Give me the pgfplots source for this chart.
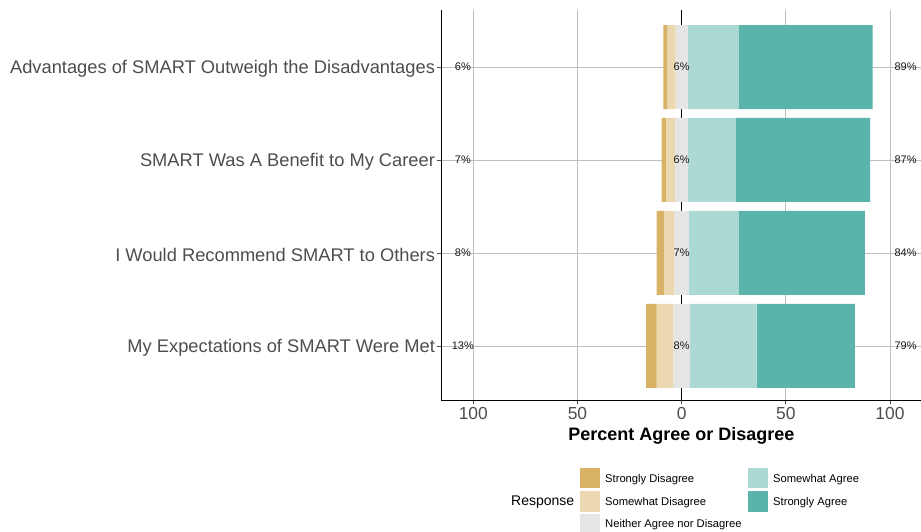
\documentclass[border=0pt]{standalone}
\usepackage{fontspec}
\setmainfont{Liberation Sans}
\usepackage{pgfplots}
\usepackage{pgfplotstable}
\pgfplotsset{compat=1.18}
\definecolor{sdis}{HTML}{D9B365}
\definecolor{swdis}{HTML}{EBD8B0}
\definecolor{neut}{HTML}{E5E5E5}
\definecolor{swag}{HTML}{ADD9D5}
\definecolor{stag}{HTML}{5AB4AC}
\definecolor{gridgray}{HTML}{BEBEBE}
\definecolor{axgray}{HTML}{4D4D4D}

% offset = -(strongly dis + somewhat dis + neutral/2)
\pgfplotstableread{
y   off    sd   swd  neu  sa    sta
4   -8.7   1.8  4.0  5.8  24.6  64.2
3   -9.6   2.1  4.5  6.0  23.0  64.5
2   -12.0  3.5  5.0  7.0  24.0  60.5
1   -17.0  5.0  8.0  8.0  32.0  47.2
}\likertdata

\tikzset{pct/.style={font=\fontsize{11}{12}\selectfont, text=black!90}}

\begin{document}
\begin{tikzpicture}
\begin{axis}[
  name=ax, at={(0,0)}, anchor=south west,
  scale only axis, width=480pt, height=390pt,
  xbar stacked, stack negative=on previous, bar width=84pt,
  xmin=-115.5, xmax=114.9, ymin=0.419, ymax=4.613,
  axis x line*=bottom, axis y line*=left,
  axis line style={black, line width=0.8pt},
  xtick={-100,-50,50,100}, xticklabels={100,50,50,100},
  extra x ticks={0}, extra x tick labels={0},
  extra x tick style={grid style={black, line width=0.9pt}},
  ytick={1,2,3,4},
  yticklabels={My Expectations of SMART Were Met,
               I Would Recommend SMART to Others,
               SMART Was A Benefit to My Career,
               Advantages of SMART Outweigh the Disadvantages},
  xmajorgrids, ymajorgrids,
  grid style={color=gridgray, line width=0.6pt},
  tick style={color=axgray, line width=0.6pt},
  tick align=outside, major tick length=4pt,
  xticklabel style={font=\fontsize{17.4}{20}\selectfont, text=axgray},
  yticklabel style={font=\fontsize{18.3}{22}\selectfont, text=axgray, xshift=1.5pt, yshift=-1.5pt},
  xlabel={\bfseries Percent Agree or Disagree},
  xlabel style={at={(axis description cs:0.501,0)}, anchor=center, yshift=-36pt,
                font=\fontsize{18}{21}\selectfont},
]
\addplot[draw=none, fill=none] table[x=off, y=y]{\likertdata};
\addplot[draw=none, fill=sdis] table[x=sd, y=y]{\likertdata};
\addplot[draw=none, fill=swdis] table[x=swd, y=y]{\likertdata};
\addplot[draw=none, fill=neut] table[x=neu, y=y]{\likertdata};
\addplot[draw=none, fill=swag] table[x=sa, y=y]{\likertdata};
\addplot[draw=none, fill=stag] table[x=sta, y=y]{\likertdata};

\coordinate (L4) at (axis cs:-105,4);
\coordinate (L3) at (axis cs:-105,3);
\coordinate (L2) at (axis cs:-105,2);
\coordinate (L1) at (axis cs:-105,1);
\coordinate (C4) at (axis cs:0,4);
\coordinate (C3) at (axis cs:0,3);
\coordinate (C2) at (axis cs:0,2);
\coordinate (C1) at (axis cs:0,1);
\coordinate (R4) at (axis cs:107.5,4);
\coordinate (R3) at (axis cs:107.5,3);
\coordinate (R2) at (axis cs:107.5,2);
\coordinate (R1) at (axis cs:107.5,1);
\end{axis}

% percentage labels on top of the bars
\node[pct] at (L4) {6\%};
\node[pct] at (L3) {7\%};
\node[pct] at (L2) {8\%};
\node[pct] at (L1) {13\%};
\node[pct] at (C4) {6\%};
\node[pct] at (C3) {6\%};
\node[pct] at (C2) {7\%};
\node[pct] at (C1) {8\%};
\node[pct] at (R4) {89\%};
\node[pct] at (R3) {87\%};
\node[pct] at (R2) {84\%};
\node[pct] at (R1) {79\%};

\begin{scope}[shift={(ax.south west)}]
  \node[anchor=west, inner sep=0pt, font=\fontsize{14}{16}\selectfont] at (70pt,-101.7pt) {Response};
  \fill[sdis]  (139pt,-88.3pt) rectangle (159pt,-68.3pt);
  \fill[swdis] (139pt,-111.7pt) rectangle (159pt,-91pt);
  \fill[neut]  (139pt,-134pt) rectangle (159pt,-114pt);
  \fill[swag]  (307pt,-88.3pt) rectangle (327pt,-68.3pt);
  \fill[stag]  (307pt,-111.7pt) rectangle (327pt,-91pt);
  \node[anchor=west, inner sep=0pt, font=\fontsize{11.2}{13}\selectfont] at (164pt,-79.5pt) {Strongly Disagree};
  \node[anchor=west, inner sep=0pt, font=\fontsize{11.2}{13}\selectfont] at (164pt,-102.3pt) {Somewhat Disagree};
  \node[anchor=west, inner sep=0pt, font=\fontsize{11.2}{13}\selectfont] at (164pt,-125pt) {Neither Agree nor Disagree};
  \node[anchor=west, inner sep=0pt, font=\fontsize{11.2}{13}\selectfont] at (332pt,-79.5pt) {Somewhat Agree};
  \node[anchor=west, inner sep=0pt, font=\fontsize{11.2}{13}\selectfont] at (332pt,-102.3pt) {Strongly Agree};
\end{scope}

\pgfresetboundingbox
\path (ax.south west) ++(-441pt,-131pt) rectangle ++(921pt,531pt);
\end{tikzpicture}
\end{document}
